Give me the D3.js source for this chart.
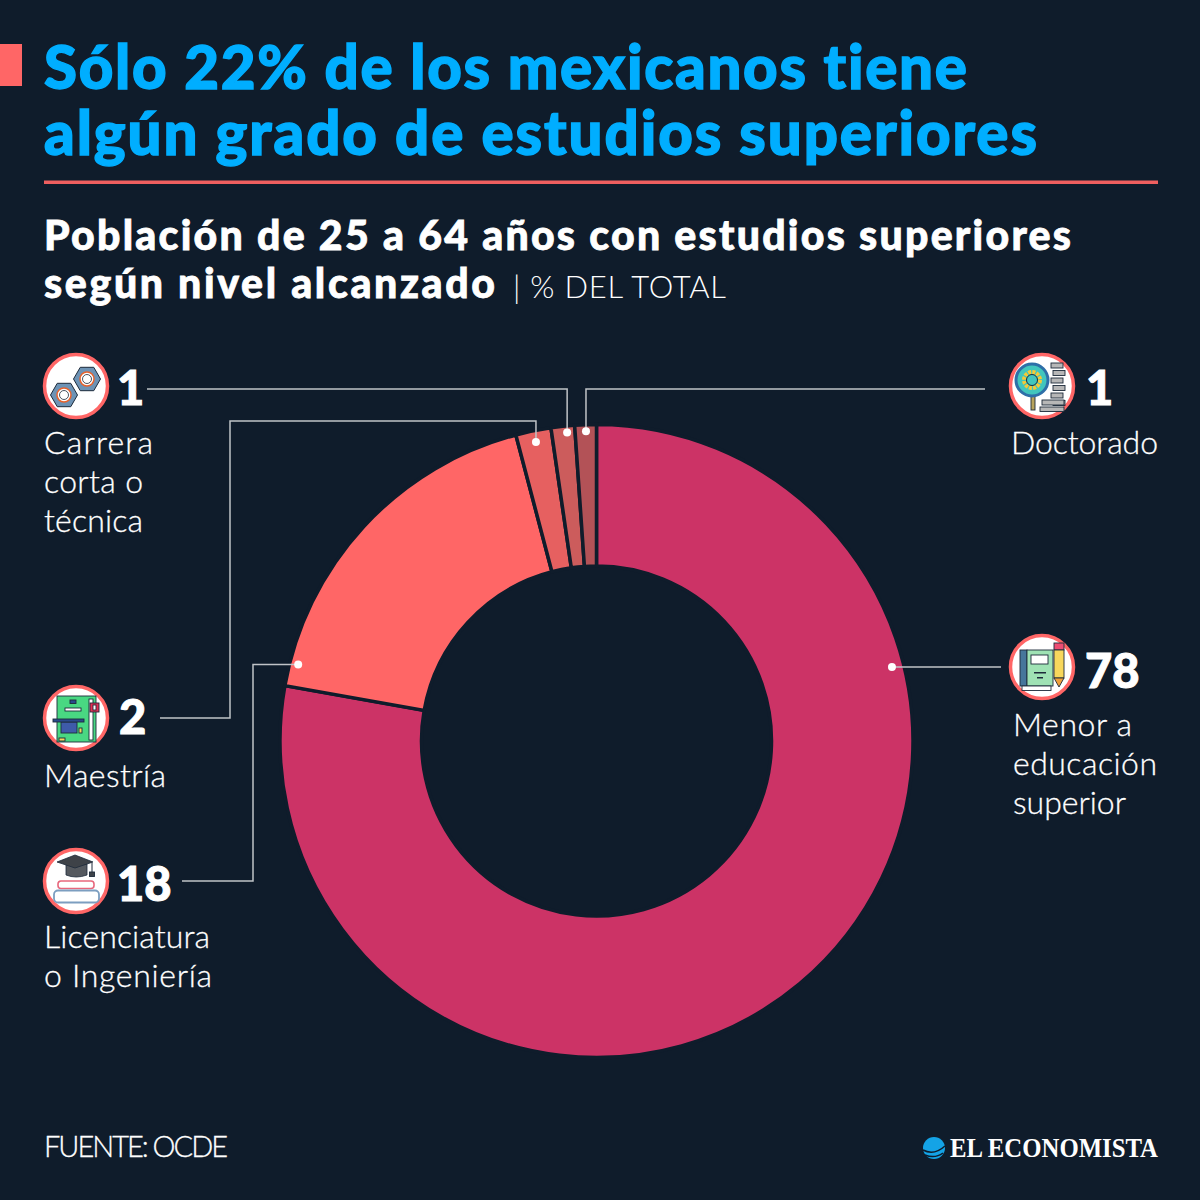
<!DOCTYPE html>
<html>
<head>
<meta charset="utf-8">
<script src="https://cdn.jsdelivr.net/npm/d3@7"></script>
<style>
	html, body { margin: 0; padding: 0; background: #0f1c2b; }
	svg { display: block; }
	text { font-family: Lato, "Open Sans", sans-serif; font-variant-ligatures: none; }
</style>
</head>
<body>
<div id="chart"></div>
<script>

var categorias = ['Menor a educación superior', 'Licenciatura o Ingeniería', 'Maestría', 'Carrera corta o técnica', 'Doctorado'];
var valores = [77.8, 18.1, 1.8, 1.2, 1.1];
var colores = ['#cc3366', '#ff6666', '#e66060', '#cc5c5c', '#b35257'];

var tituloLineas = ['Sólo 22% de los mexicanos tiene', 'algún grado de estudios superiores'];
var subtituloLineas = ['Población de 25 a 64 años con estudios superiores', 'según nivel alcanzado'];
var unidad = '| % DEL TOTAL';
var fuente = 'FUENTE: OCDE';
var marca = 'EL ECONOMISTA';

var fondo = '#0f1c2b';
var svg = d3.select('#chart').append('svg').attr('width', 1200).attr('height', 1200);

svg.append('rect').attr('width', 1200).attr('height', 1200).attr('fill', fondo);

// header
svg.append('rect').attr('x', 0).attr('y', 44).attr('width', 22).attr('height', 42).attr('fill', '#ff6666');

var tituloAnchos = [923, 993];
svg.selectAll('.titulo')
	.data(tituloLineas)
	.enter()
	.append('text')
	.attr('class', 'titulo')
	.attr('x', 44)
	.attr('y', function(d, i){ return 89 + i * 66; })
	.attr('textLength', function(d, i){ return tituloAnchos[i]; })
	.attr('font-size', 60)
	.attr('font-weight', 900)
	.attr('fill', '#00aeff')
	.attr('stroke', '#00aeff')
	.attr('stroke-width', 1.4)
	.text(function(d){ return d; });

svg.append('rect').attr('x', 44).attr('y', 180.5).attr('width', 1114).attr('height', 3.5).attr('fill', '#ee5f5f');

var subtituloAnchos = [1027, 451];
svg.selectAll('.subtitulo')
	.data(subtituloLineas)
	.enter()
	.append('text')
	.attr('class', 'subtitulo')
	.attr('x', 44)
	.attr('y', function(d, i){ return 250 + i * 48; })
	.attr('textLength', function(d, i){ return subtituloAnchos[i]; })
	.attr('font-size', 41)
	.attr('font-weight', 900)
	.attr('fill', '#fff')
	.attr('stroke', '#fff')
	.attr('stroke-width', 0.8)
	.text(function(d){ return d; });

svg.append('text')
	.attr('x', 513).attr('y', 298)
	.attr('textLength', 213)
	.attr('font-size', 31).attr('font-weight', 300)
	.attr('fill', '#fff')
	.text(unidad);

// donut
var centro = [596.5, 741];
var pie = d3.pie().sort(null).value(function(d){ return d; });
var arco = d3.arc().innerRadius(175).outerRadius(316.5);
var porciones = pie(valores);

var dona = svg.append('g').attr('transform', 'translate(' + centro + ')');

dona.selectAll('path')
	.data(porciones)
	.enter()
	.append('path')
	.attr('d', arco)
	.attr('fill', function(d, i){ return colores[i]; })
	.attr('stroke', fondo)
	.attr('stroke-width', 3.5);

// where each leader line touches the ring: angle in value units, radius in px
var anclaValor = [21.09, 79, 96.82, 98.49, 99.46];
var anclaRadio = [304.6, 308, 305, 310, 310];
var escalaAngulo = d3.scaleLinear().domain([0, 100]).range([0, 2 * Math.PI]);

function ancla(i) {
	var a = escalaAngulo(anclaValor[i]);
	return [centro[0] + anclaRadio[i] * Math.sin(a), centro[1] - anclaRadio[i] * Math.cos(a)];
}

// leader lines, from the label to the ring
var rutas = [
	function(p){ return [[1001, p[1]], p]; },
	function(p){ return [[182, 881], [253, 881], [253, p[1]], p]; },
	function(p){ return [[160, 718], [230, 718], [230, 421], [p[0], 421], p]; },
	function(p){ return [[147, 389], [p[0], 389], p]; },
	function(p){ return [[985, 389], [p[0], 389], p]; }
];
var linea = d3.line();

svg.selectAll('.guia')
	.data(rutas)
	.enter()
	.append('path')
	.attr('class', 'guia')
	.attr('d', function(d, i){ return linea(d(ancla(i))); })
	.attr('fill', 'none')
	.attr('stroke', '#c0c3c7')
	.attr('stroke-width', 1.5);

svg.selectAll('.punto')
	.data(valores)
	.enter()
	.append('circle')
	.attr('class', 'punto')
	.attr('cx', function(d, i){ return ancla(i)[0]; })
	.attr('cy', function(d, i){ return ancla(i)[1]; })
	.attr('r', 4)
	.attr('fill', '#fff');

// labels
var etiquetaLineas = [
	['Menor a', 'educación', 'superior'],
	['Licenciatura', 'o Ingeniería'],
	['Maestría'],
	['Carrera', 'corta o', 'técnica'],
	['Doctorado']
];
var etiquetaAnchos = [[119, 144, 113], [166, 168], [122], [109, 99, 99], [147]];
var etiquetaX = [1013, 44, 44, 44, 1011];
var etiquetaY = [736, 948, 787, 454, 454];
var numeroX = [1085, 117, 119, 117, 1086];
var numeroY = [688, 901, 734, 405, 405];
var iconoPos = [[1042, 667], [76, 881], [76, 718], [76, 386], [1042, 386]];

var bloques = svg.selectAll('.bloque')
	.data(categorias)
	.enter()
	.append('g')
	.attr('class', 'bloque');

bloques.append('text')
	.attr('x', function(d, i){ return numeroX[i]; })
	.attr('y', function(d, i){ return numeroY[i]; })
	.attr('font-size', 47)
	.attr('font-weight', 900)
	.attr('fill', '#fff')
	.attr('stroke', '#fff')
	.attr('stroke-width', 1)
	.text(function(d, i){ return d3.format('.0f')(valores[i]); });

bloques.each(function(d, i) {
	d3.select(this).selectAll('.etiqueta')
		.data(etiquetaLineas[i])
		.enter()
		.append('text')
		.attr('class', 'etiqueta')
		.attr('x', etiquetaX[i])
		.attr('y', function(l, j){ return etiquetaY[i] + j * 39; })
		.attr('textLength', function(l, j){ return etiquetaAnchos[i][j]; })
		.attr('font-size', 32)
		.attr('font-weight', 300)
		.attr('fill', '#fff')
		.attr('stroke', '#fff')
		.attr('stroke-width', 0.3)
		.text(function(l){ return l; });
});

// icons
var iconos = bloques.append('g')
	.attr('transform', function(d, i){ return 'translate(' + iconoPos[i] + ')'; });

iconos.append('circle')
	.attr('r', 31.5)
	.attr('fill', '#fff')
	.attr('stroke', '#ff6666')
	.attr('stroke-width', 3.5);

function caja(g, x, y, w, h, color) {
	return g.append('rect').attr('x', x).attr('y', y).attr('width', w).attr('height', h)
		.attr('fill', color).attr('stroke', '#1d2a3a').attr('stroke-width', 0.9);
}

function tuerca(g, cx, cy) {
	var hex = d3.range(6).map(function(k){
		var a = k * Math.PI / 3;
		return [cx + 13.5 * Math.cos(a), cy + 13.5 * Math.sin(a)];
	});
	g.append('polygon').attr('points', hex.join(' ')).attr('fill', '#6d93b5').attr('stroke', '#1d2a3a').attr('stroke-width', 1);
	g.append('circle').attr('cx', cx).attr('cy', cy).attr('r', 7).attr('fill', '#fff').attr('stroke', '#e8622c').attr('stroke-width', 1.5);
	g.append('circle').attr('cx', cx).attr('cy', cy).attr('r', 4.5).attr('fill', '#fff').attr('stroke', '#1d2a3a').attr('stroke-width', 0.8);
}

var dibujos = [
	function(g) { // libro y lapiz
		caja(g, -22, -17, 7, 36, '#46769b');
		caja(g, -15, -17, 26, 36, '#9fe2b4');
		caja(g, -11, -12, 17, 9, '#fff');
		g.append('rect').attr('x', -8).attr('y', 5).attr('width', 12).attr('height', 1.5).attr('fill', '#1d2a3a');
		g.append('rect').attr('x', -5).attr('y', 10).attr('width', 6).attr('height', 1.5).attr('fill', '#1d2a3a');
		caja(g, -20, 19, 29, 4.5, '#fff');
		caja(g, 12, -24, 10, 7, '#ee4d73');
		caja(g, 12, -17, 10, 28, '#f7d75c');
		g.append('polygon').attr('points', '12,11 22,11 17,20').attr('fill', '#f0a13a').attr('stroke', '#1d2a3a').attr('stroke-width', 0.9);
	},
	function(g) { // birrete y libros
		g.append('path').attr('d', 'M-10,-17V-6Q0,-2 11,-6V-17Z').attr('fill', '#55595f').attr('stroke', '#1d2a3a').attr('stroke-width', 0.8);
		g.append('polygon').attr('points', '-19,-19 -1,-26 17,-19 -1,-13').attr('fill', '#3e4248').attr('stroke', '#1d2a3a').attr('stroke-width', 0.8);
		g.append('path').attr('d', 'M16,-18V-8').attr('stroke', '#1d2a3a').attr('stroke-width', 1);
		caja(g, 13.5, -9, 5, 4.5, '#3e4248');
		caja(g, -18, 0, 36, 7.5, '#fff').attr('stroke', '#e7677c').attr('stroke-width', 1.6).attr('rx', 3);
		caja(g, -22, 9.5, 45, 12, '#fff').attr('stroke', '#7c9ec0').attr('stroke-width', 1.8).attr('rx', 4);
	},
	function(g) { // maestria
		caja(g, -19, -22, 39, 46, '#49d882');
		caja(g, -6, -18, 6, 3.5, '#2a4a8c');
		caja(g, -11, -10, 16, 3, '#fff');
		caja(g, -15, 4, 16, 11, '#3e5ba9');
		caja(g, -23, 1, 31, 3, '#2a4a8c');
		caja(g, 3, 10, 3, 5, '#f7d75c');
		caja(g, -17, 20, 6, 3, '#f7d75c');
		caja(g, 13, -19, 4, 41, '#fff');
		caja(g, 14, -15, 9, 9, '#e52f52');
		caja(g, 17, -13, 3, 5, '#fff');
	},
	function(g) { // tuercas
		tuerca(g, -12, 9);
		tuerca(g, 11, -7);
	},
	function(g) { // lupa y ladrillos
		d3.range(6).forEach(function(k){
			caja(g, 9 + (k % 2) * 2, -23 + k * 7.5, 12, 5, '#b7b7b7');
		});
		caja(g, 0, 14, 22, 5, '#b7b7b7');
		caja(g, -2, 21, 24, 4.5, '#b7b7b7');
		caja(g, -11, 10, 4, 14, '#b7a35c');
		g.append('circle').attr('cx', -10).attr('cy', -6).attr('r', 16).attr('fill', '#42c6bd').attr('stroke', '#2e6fa8').attr('stroke-width', 3);
		g.append('circle').attr('cx', -10).attr('cy', -6).attr('r', 8).attr('fill', 'none').attr('stroke', '#f7c935').attr('stroke-width', 4).attr('stroke-dasharray', '3 1.2');
		g.append('circle').attr('cx', -10).attr('cy', -6).attr('r', 5.5).attr('fill', 'none').attr('stroke', '#1d2a3a').attr('stroke-width', 1);
	}
];

iconos.each(function(d, i){ dibujos[i](d3.select(this)); });

// footer
svg.append('text')
	.attr('x', 44).attr('y', 1157)
	.attr('textLength', 184)
	.attr('font-size', 29).attr('font-weight', 300)
	.attr('fill', '#fff')
	.attr('stroke', '#fff')
	.attr('stroke-width', 0.3)
	.text(fuente);

svg.append('circle').attr('cx', 934).attr('cy', 1148).attr('r', 11).attr('fill', '#14a3e6');
svg.append('path')
	.attr('d', 'M923,1150Q934,1156 945,1146M925,1155Q935,1159 943,1153')
	.attr('fill', 'none').attr('stroke', fondo).attr('stroke-width', 1.5);

svg.append('text')
	.attr('x', 950).attr('y', 1157)
	.attr('textLength', 208)
	.attr('lengthAdjust', 'spacingAndGlyphs')
	.style('font-family', '"Liberation Serif", serif')
	.attr('font-size', 27).attr('font-weight', 700)
	.attr('fill', '#fff')
	.text(marca);

</script>
</body>
</html>
